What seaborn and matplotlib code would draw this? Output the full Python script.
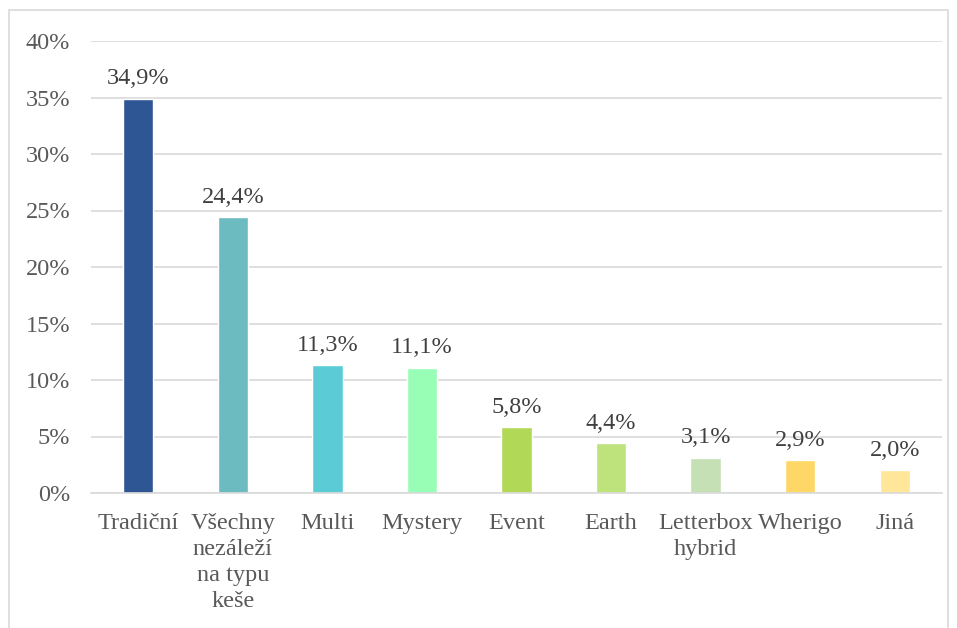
import matplotlib
matplotlib.use("Agg")
import matplotlib.pyplot as plt
import seaborn as sns
import pandas as pd
from matplotlib.patches import Rectangle

categories = ["Tradiční", "Všechny\nnezáleží\nna typu\nkeše", "Multi", "Mystery", "Event",
              "Earth", "Letterbox\nhybrid", "Wherigo", "Jiná"]
values = [34.9, 24.4, 11.3, 11.1, 5.8, 4.4, 3.1, 2.9, 2.0]
value_labels = ["34,9%", "24,4%", "11,3%", "11,1%", "5,8%", "4,4%", "3,1%", "2,9%", "2,0%"]
colors = ["#2E5594", "#6BBBC1", "#5BCBD6", "#98FDB5", "#B2D858",
          "#BEE37C", "#C5E0B5", "#FED766", "#FFE699"]
yticks = [0, 5, 10, 15, 20, 25, 30, 35, 40]
ytick_labels = ["0%", "5%", "10%", "15%", "20%", "25%", "30%", "35%", "40%"]

sns.set_theme(style="white")
plt.rcParams["font.family"] = ["Liberation Serif", "DejaVu Serif"]

df = pd.DataFrame({"cat": categories, "val": values})

fig = plt.figure(figsize=(9.57, 6.28), dpi=100)
ax = fig.add_axes([91/957, 1 - 493/628, (942 - 91)/957, (493 - 41)/628])

sns.barplot(data=df, x="cat", y="val", hue="cat", palette=colors, legend=False,
            width=0.32, ax=ax, saturation=1)

ax.set_ylim(0, 40)
ax.set_yticks(yticks)
ax.set_yticklabels(ytick_labels)
ax.set_xlabel("")
ax.set_ylabel("")
ax.yaxis.grid(True, color="#D9D9D9", linewidth=1.2)
ax.set_axisbelow(True)
for s in ["top", "right", "left"]:
    ax.spines[s].set_visible(False)
ax.spines["bottom"].set_color("#D9D9D9")
ax.spines["bottom"].set_linewidth(1.2)

fs = 17.5
ax.tick_params(axis="y", length=0, pad=15, labelsize=fs, labelcolor="#595959")
ax.tick_params(axis="x", length=0, pad=14.5, labelsize=fs, labelcolor="#595959")
for lab in ax.get_xticklabels():
    lab.set_linespacing(1.32)
    lab.set_verticalalignment("top")

for i, (v, t) in enumerate(zip(values, value_labels)):
    ax.annotate(t, (i, v), xytext=(0, 7), textcoords="offset points",
                ha="center", va="bottom", fontsize=fs, color="#404040")

fig.patches.append(Rectangle((9/957, -0.05), (948 - 9)/957, 1 - 10/628 + 0.05,
                             transform=fig.transFigure, fill=False,
                             edgecolor="#D9D9D9", linewidth=1.2))

fig.savefig("out.png", dpi=100)
